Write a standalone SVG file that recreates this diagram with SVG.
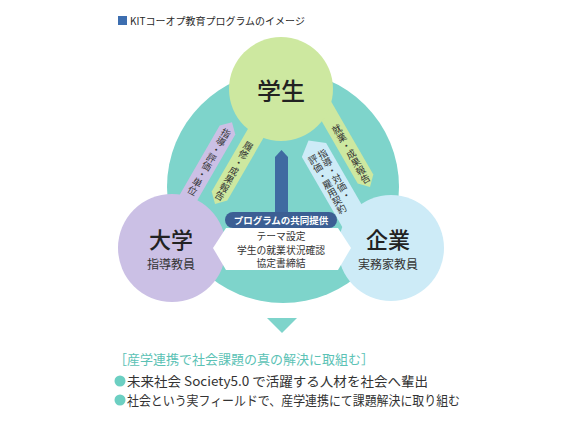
<svg xmlns="http://www.w3.org/2000/svg" width="564" height="422" viewBox="0 0 564 422">
<style>
text{font-family:"Noto Sans CJK JP","Noto Sans",sans-serif;fill:#2a2a2a}
.vt{writing-mode:vertical-rl;text-orientation:upright;font-size:9.5px;fill:#333}
.big{font-size:22px;font-weight:500;text-anchor:middle;fill:#222}
.sub{font-size:12px;text-anchor:middle;fill:#333}
.hx{font-size:9.8px;text-anchor:middle;fill:#333}
.line{font-size:13px;fill:#333}
</style>
<rect width="564" height="422" fill="#fff"/>
<g id="header">
<rect x="118" y="16" width="9" height="9" fill="#3d6eb0"/>
<text x="130" y="25" font-size="10" fill="#333">KITコーオプ教育プログラムのイメージ</text>
</g>
<g id="background">
<circle cx="283" cy="187" r="116" fill="#7ed4cb"/>
</g>
<g id="connectors">
<g transform="translate(209,162) rotate(30)">
<polygon points="-9,-37 0,-46 9,-37 9,60 -9,60" fill="#cbc0e5"/>
</g>
<g transform="translate(234,171) rotate(30)">
<polygon points="-9,-60 9,-60 9,29 0,38 -9,29" fill="#cde8a0"/>
</g>
<g transform="translate(351,154) rotate(-30)">
<polygon points="-9,-60 9,-60 9,29 0,38 -9,29" fill="#cde8a0"/>
</g>
<g transform="translate(318,157) rotate(-30)">
<polygon points="-14,-8 0,-19 14,-8 14,95 -14,95" fill="#cdebf7"/>
</g>
<polygon points="275,157 281.5,150 288,157 288,214 275,214" fill="#3f6aa1"/>
</g>
<g id="student">
<circle cx="281" cy="89" r="52" fill="#cde8a0"/>
<text x="281" y="100" class="big" style="font-size:24px">学生</text>
</g>
<g id="university">
<circle cx="172" cy="248" r="54" fill="#cbc0e5"/>
<text x="171" y="248" class="big">大学</text>
<text x="171" y="269" class="sub">指導教員</text>
</g>
<g id="company">
<circle cx="391" cy="248" r="53" fill="#cdebf7"/>
<text x="388" y="248" class="big">企業</text>
<text x="388" y="269" class="sub">実務家教員</text>
</g>
<g id="connector-labels">
<g transform="translate(209,162) rotate(30)">
<text x="0" y="0" class="vt" text-anchor="middle">指導・評価・単位</text>
</g>
<g transform="translate(234,171) rotate(30)">
<text x="0" y="0" class="vt" text-anchor="middle">履修・成果報告</text>
</g>
<g transform="translate(351,154) rotate(-30)">
<text x="0" y="0" class="vt" text-anchor="middle">就業・成果報告</text>
</g>
<g transform="translate(318,157) rotate(-30)">
<text x="5.5" y="-5" class="vt">指導・対価・</text>
<text x="-5.5" y="-5" class="vt">評価・雇用契約</text>
</g>
</g>
<g id="program">
<polygon points="213,248 226,228 338,228 351,248 338,270 226,270" fill="#fff"/>
<rect x="225" y="212" width="112" height="16" rx="8" fill="#3c5f94"/>
<text x="281" y="224" font-size="9.5" font-weight="700" text-anchor="middle" style="fill:#fff">プログラムの共同提供</text>
<text x="281" y="240" class="hx">テーマ設定</text>
<text x="281" y="253.5" class="hx">学生の就業状況確認</text>
<text x="281" y="267" class="hx">協定書締結</text>
</g>
<g id="result">
<polygon points="267,318 297,318 282,333" fill="#7ed4cb"/>
<text x="114" y="364" font-size="13" style="fill:#5bc2b5">［産学連携で社会課題の真の解決に取組む］</text>
<circle cx="120" cy="381" r="5.5" fill="#6ccfc2"/>
<text x="127" y="386" class="line" textLength="301" lengthAdjust="spacingAndGlyphs">未来社会 Society5.0 で活躍する人材を社会へ輩出</text>
<circle cx="120" cy="400" r="5.5" fill="#6ccfc2"/>
<text x="127" y="405" class="line" textLength="333" lengthAdjust="spacingAndGlyphs">社会という実フィールドで、産学連携にて課題解決に取り組む</text>
</g>
</svg>
